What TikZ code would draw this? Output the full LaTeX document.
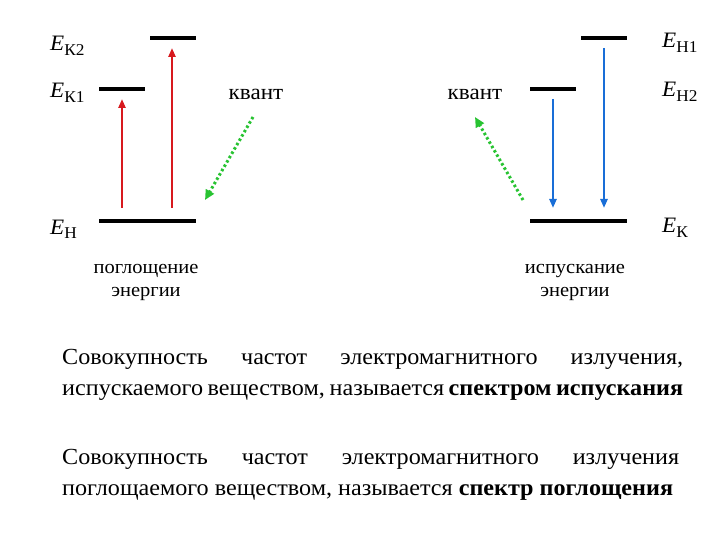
\documentclass[tikz,border=0pt]{standalone}
\usepackage{fontspec}
\setmainfont[FakeStretch=1.05]{Liberation Serif}
\usetikzlibrary{arrows.meta}

\definecolor{absred}{RGB}{215,25,30}
\definecolor{emblue}{RGB}{25,110,215}
\definecolor{qgreen}{RGB}{40,195,50}

\newcommand{\En}[1]{{\itshape E}\raisebox{-5pt}{\fontsize{16.5}{18}\selectfont #1}}

\tikzset{
  level/.style={line width=4pt},
  uparrow/.style={absred, line width=2.6pt, -{Triangle[length=9pt,width=7pt]}},
  downarrow/.style={emblue, line width=2.6pt, -{Triangle[length=9pt,width=7pt]}},
  photon/.style={qgreen, line width=3pt, dash pattern=on 2.5pt off 2.5pt, -{Triangle[length=10pt,width=9pt]}},
  elabel/.style={anchor=base west, inner sep=0pt, font=\fontsize{22}{24}\selectfont},
  qlabel/.style={anchor=base, inner sep=0pt, font=\fontsize{22}{24}\selectfont},
  caption/.style={anchor=base, inner sep=0pt, font=\fontsize{19.5}{20}\selectfont},
  body/.style={anchor=base west, inner sep=0pt, font=\fontsize{23}{24}\selectfont}
}

\begin{document}
\begin{tikzpicture}[x=1pt,y=-1pt]
  \useasboundingbox (0,0) rectangle (720,540);

  % absorption
  \draw [level] (150,38) coordinate (k2a) -- (196,38) coordinate (k2b);
  \draw [level] (99,89) coordinate (k1a) -- (145,89) coordinate (k1b);
  \draw [level] (99,221) coordinate (ha) -- (196,221) coordinate (hb);
  \coordinate (u1s) at (122,208); \coordinate (u1e) at (122,99);
  \coordinate (u2s) at (172,208); \coordinate (u2e) at (172,48);
  \draw [uparrow] (u1s) -- (u1e);
  \draw [uparrow] (u2s) -- (u2e);
  \node (ek2) [elabel] at (50,51) {\En{К2}};
  \node (ek1) [elabel] at (50,98) {\En{К1}};
  \node (eh) [elabel] at (50,234) {\En{Н}};
  \node (qin) [qlabel] at (256,100) {квант};
  \coordinate (gin1) at (253,117); \coordinate (gin2) at (205,200);
  \draw [photon] (gin1) -- (gin2);
  \node (absa) [caption] at (146,273) {поглощение};
  \node (absb) [caption] at (146,296) {энергии};

  % emission
  \draw [level] (581,38) coordinate (h1a) -- (627,38) coordinate (h1b);
  \draw [level] (530,89) coordinate (h2a) -- (576,89) coordinate (h2b);
  \draw [level] (530,221) coordinate (ka) -- (627,221) coordinate (kb);
  \coordinate (d1s) at (553,99); \coordinate (d1e) at (553,208);
  \coordinate (d2s) at (604,48); \coordinate (d2e) at (604,208);
  \draw [downarrow] (d1s) -- (d1e);
  \draw [downarrow] (d2s) -- (d2e);
  \node (eh1) [elabel] at (662,48) {\En{Н1}};
  \node (eh2) [elabel] at (662,97) {\En{Н2}};
  \node (ek) [elabel] at (662,233) {\En{К}};
  \node (qout) [qlabel] at (475,100) {квант};
  \coordinate (gout1) at (523,200); \coordinate (gout2) at (475,117);
  \draw [photon] (gout1) -- (gout2);
  \node (emia) [caption] at (575,273) {испускание};
  \node (emib) [caption] at (575,296) {энергии};

  % definitions
  \node (p1a) [body] at (62,364) {\makebox[621pt][s]{Совокупность частот электромагнитного излучения,}};
  \node (p1b) [body] at (62,395) {\makebox[621pt][s]{испускаемого веществом, называется \textbf{спектром испускания}}};
  \node (p2a) [body] at (62,464) {\makebox[617pt][s]{Совокупность частот электромагнитного излучения}};
  \node (p2b) [body] at (62,495) {поглощаемого веществом, называется \textbf{спектр поглощения}};
\end{tikzpicture}
\end{document}
